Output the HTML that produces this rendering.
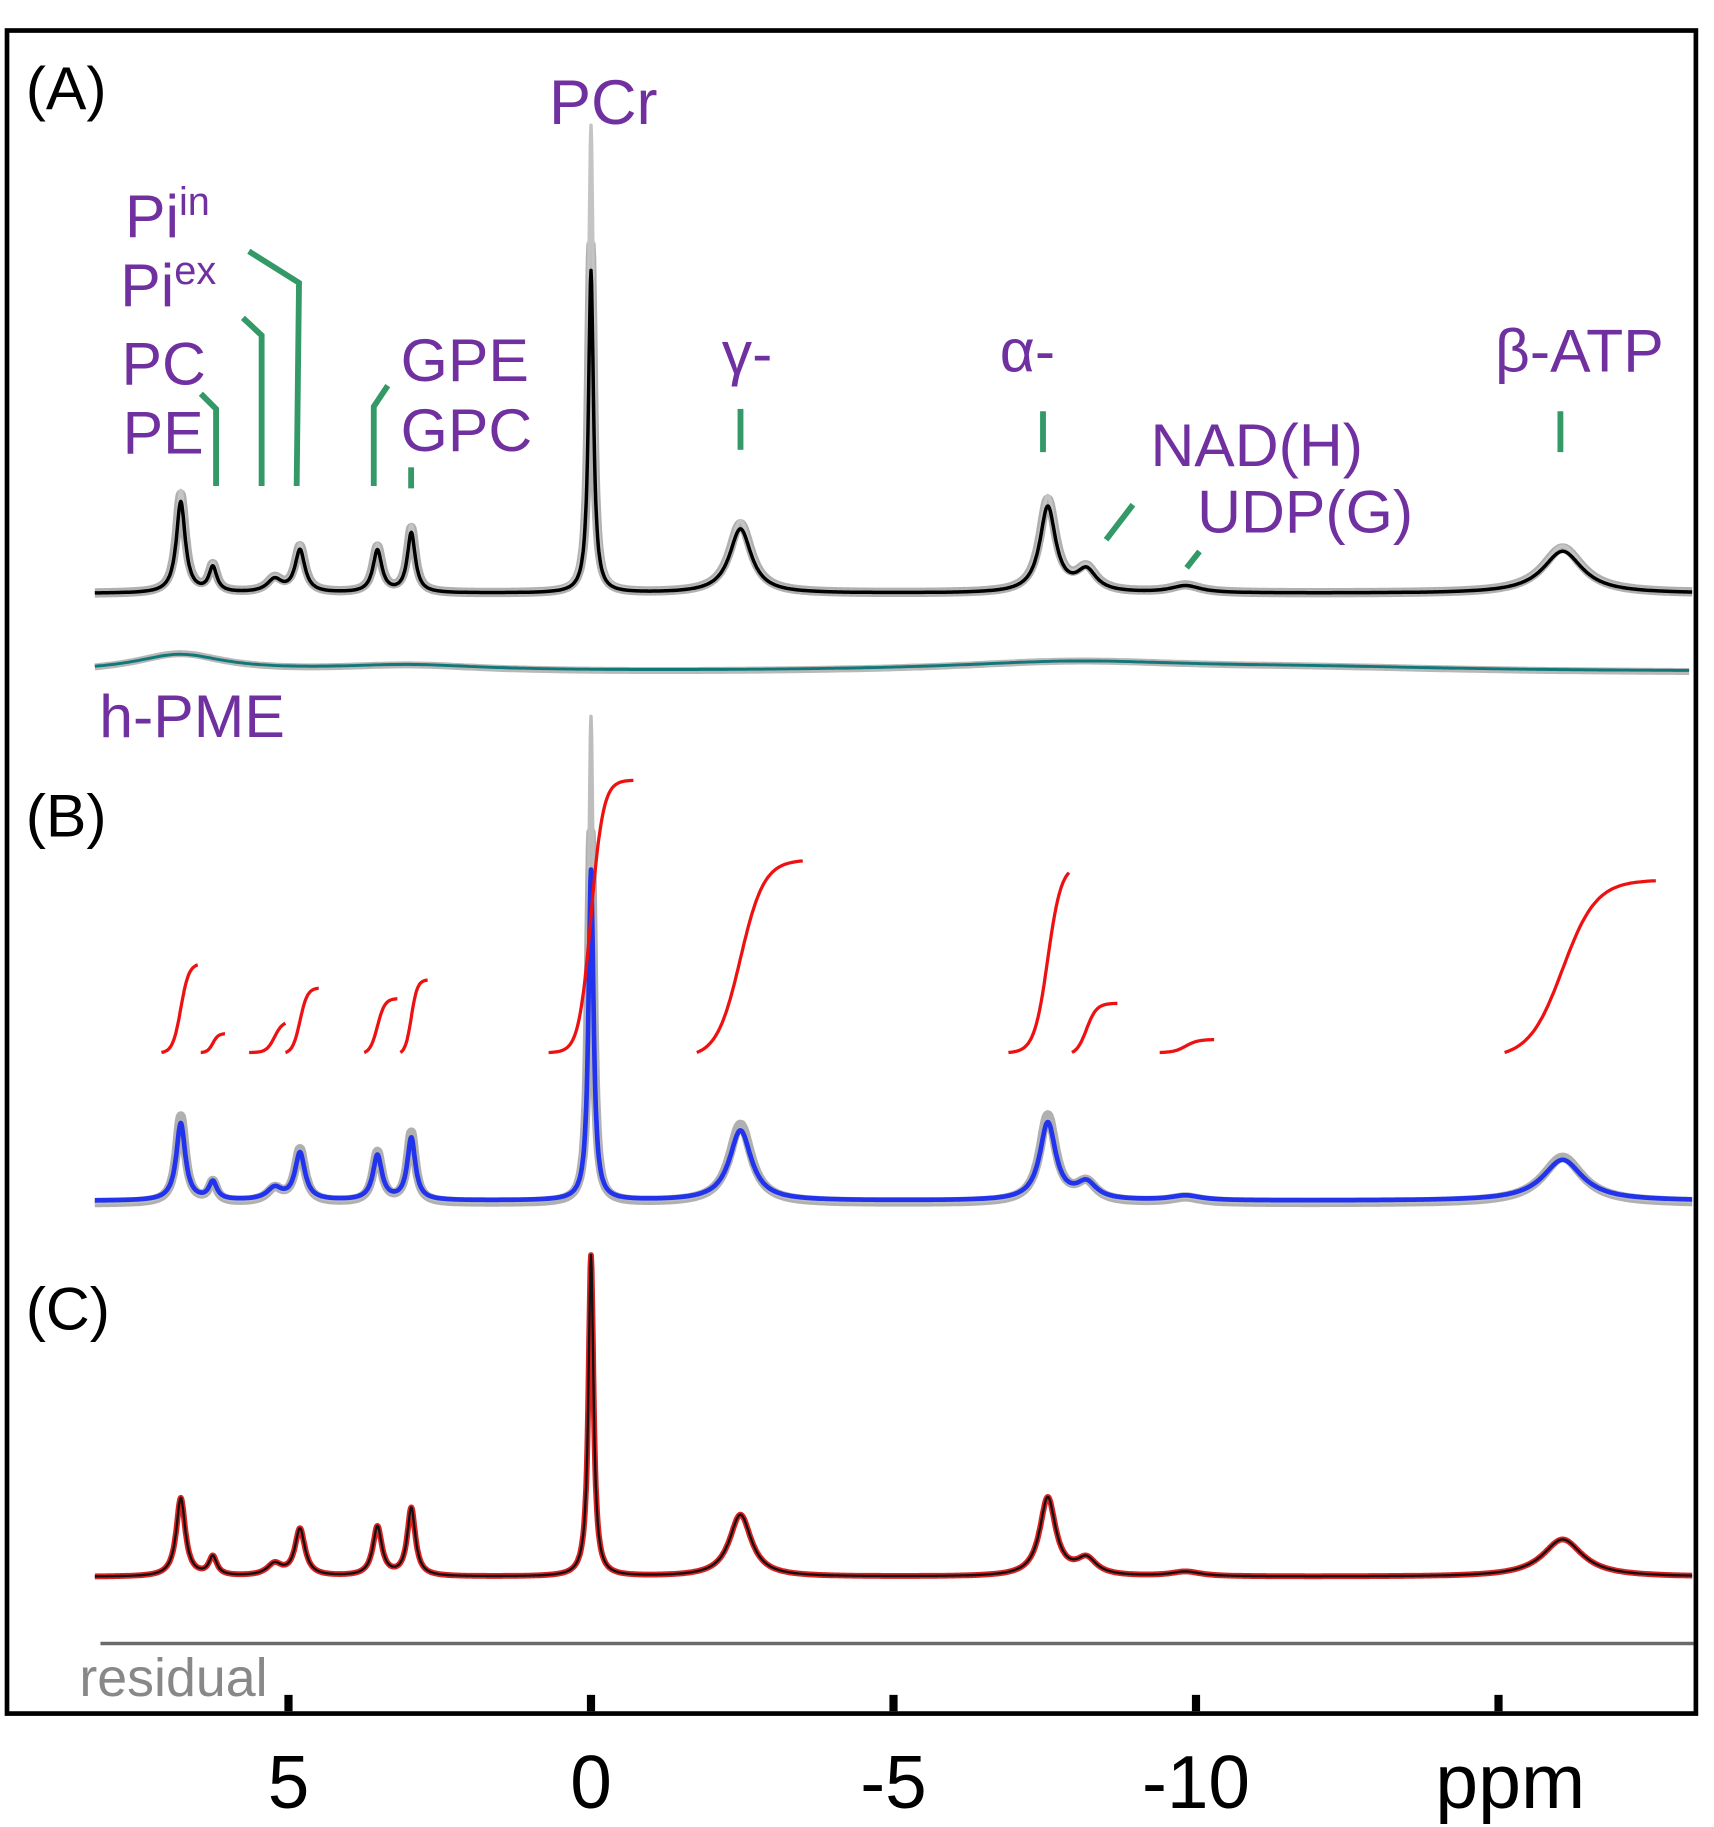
<!DOCTYPE html>
<html><head><meta charset="utf-8"><style>
html,body{margin:0;padding:0;background:#fff}
svg{display:block}
text{font-family:"Liberation Sans",sans-serif}
</style></head><body>
<svg id="chart" width="1714" height="1827" viewBox="0 0 1467.5 1564" xmlns="http://www.w3.org/2000/svg">
<rect x="6" y="26" width="1446" height="1441" fill="none" stroke="#000" stroke-width="4"/>
<g id="marks"></g>
<g id="labels" fill="#7030a0" font-size="52">
<text x="22" y="93" fill="#000" font-size="52">(A)</text>
<text x="22" y="716" fill="#000" font-size="52">(B)</text>
<text x="22" y="1138" fill="#000" font-size="52">(C)</text>
<text x="470" y="106" font-size="54">PCr</text>
<text x="107" y="203">Pi<tspan font-size="34" dy="-19">in</tspan></text>
<text x="103" y="262">Pi<tspan font-size="34" dy="-19">ex</tspan></text>
<text x="104" y="329">PC</text>
<text x="105" y="388">PE</text>
<text x="343" y="326">GPE</text>
<text x="343" y="386">GPC</text>
<text x="618" y="320">γ-</text>
<text x="856" y="318">α-</text>
<text x="1280" y="318">β-ATP</text>
<text x="985" y="399">NAD(H)</text>
<text x="1025" y="456">UDP(G)</text>
<text x="85" y="631">h-PME</text>
<text x="68" y="1452" fill="#888" font-size="46">residual</text>
</g>
<g stroke="#339966" stroke-width="5" fill="none">
<polyline points="172,337 185,350 185,416"/>
<polyline points="208,272 224,287 224,416"/>
<polyline points="213,215 256,242 254,416"/>
<polyline points="332,330 320,348 320,416"/>
<polyline points="352,400 352,418"/>
<polyline points="634,350 634,385"/>
<polyline points="893,352 893,387"/>
<polyline points="1336,352 1336,387"/>
<polyline points="970,432 947,462"/>
<polyline points="1027,472 1016,486"/>
</g>
<g id="axis"></g>
</svg>
<script>
const peakNames=["PE","PC","Pi-ex","Pi-in","GPE","GPC","PCr","gamma","alpha","NAD","UDP","beta"];
const peakPpm=[6.78,6.25,5.23,4.81,3.53,2.97,0,-2.47,-7.55,-8.19,-9.83,-16.06];
const peakAmpA=[78,21,11,36,36,51,276,55,73,18,6,36];
const peakAmpB=[66,15,10,40,38,53,283,60,66,14,4,35];
const peakAmpC=[67,16,10,40,42,58,275,53,67,14,4,32];
const peakWidth=[0.09,0.08,0.15,0.1,0.09,0.08,0.05,0.22,0.16,0.2,0.3,0.4];
const integralHeights=[75,16,25,55,46,62,233,164,154,42,11,147];
const integralStart=[7.1,6.45,5.65,5.05,3.75,3.15,0.7,-1.75,-6.9,-7.95,-9.4,-15.1];
const integralEnd=[6.5,6.05,5.05,4.5,3.2,2.7,-0.7,-3.5,-7.9,-8.7,-10.3,-17.6];
const xTicks=[5,0,-5,-10,-15];
const xTickLabels=["5","0","-5","-10",""];

const svgNS="http://www.w3.org/2000/svg";
const marks=document.getElementById('marks');
const axisG=document.getElementById('axis');
function xScale(p){return 506-p*51.8;}
function spec(p,amps){let s=0;for(let i=0;i<peakPpm.length;i++){const d=(p-peakPpm[i])/peakWidth[i];s+=amps[i]/(1+d*d);}return s;}
function pathFor(amps,base,scale){let d="";for(let p=8.2;p>=-18.2;p-=0.01){const x=xScale(p),y=base-spec(p,amps)*scale;d+=(d?"L":"M")+x.toFixed(1)+","+y.toFixed(1);}return d;}
function addPath(d,stroke,w,name){const el=document.createElementNS(svgNS,'path');el.setAttribute('d',d);el.setAttribute('fill','none');el.setAttribute('stroke',stroke);el.setAttribute('stroke-width',w);el.setAttribute('stroke-linejoin','round');


marks.appendChild(el);return el;}
// Panel A
addPath(pathFor(peakAmpA,508,1.08),"#b0b0b0",8,"panel-a-raw-trace");
addPath(pathFor(peakAmpA.map((v,i)=>i==6?v*1.45:v*1.12),508,1),"#c4c4c4",3,"panel-a-raw-peaks");
addPath(pathFor(peakAmpA,508,1),"#000",3,"panel-a-fit-trace");
// h-PME
const pmePpm=[6.8,3.0,-8.0,-12];const pmeAmp=[14,5,8,3];const pmeW=[0.9,1.5,2.5,3];
function pme(p){let s=0;for(let i=0;i<pmePpm.length;i++){const d=(p-pmePpm[i])/pmeW[i];s+=pmeAmp[i]/(1+d*d);}return s;}
function pmePath(base,sc){let d="";for(let p=8.2;p>=-18.2;p-=0.05){d+=(d?"L":"M")+xScale(p).toFixed(1)+","+(base-pme(p)*sc).toFixed(1);}return d;}
addPath(pmePath(576,1.1),"#b8b8b8",6,"h-pme-raw");
addPath(pmePath(575,1),"#107878",2.5,"h-pme-fit");
// Panel B
addPath(pathFor(peakAmpB,1030,1.12),"#b0b0b0",8,"panel-b-raw-trace");
addPath(pathFor(peakAmpB.map((v,i)=>i==6?v*1.4:v),1030,1.05),"#bdbdbd",3,"panel-b-raw-peaks");
addPath(pathFor(peakAmpB,1028,1),"#2233ee",4,"panel-b-fit-trace");
// integrals (logistic step shape)
for(let i=0;i<peakPpm.length;i++){
 let d="";const a=integralStart[i],b=integralEnd[i],w=Math.min(Math.abs(b-a)/9,peakWidth[i]*2);
 const f=p=>1/(1+Math.exp((p-peakPpm[i])/w));const fa=f(a),fb=f(b);
 const N=80;
 for(let k=0;k<=N;k++){const p=a+(b-a)*k/N;const t=(f(p)-fa)/(fb-fa);const y=901-t*integralHeights[i];d+=(d?"L":"M")+xScale(p).toFixed(1)+","+y.toFixed(1);}
 addPath(d,"#ee1111",2.8,"integral-"+peakNames[i]);
}
// Panel C
addPath(pathFor(peakAmpC,1350,1),"#dd2222",5,"panel-c-fit-red");
addPath(pathFor(peakAmpC,1350,1),"#111",2,"panel-c-fit-trace");
// residual
addPath("M86,1407L1450,1407","#6a6a6a",3,"residual-trace");
// axis ticks
for(let i=0;i<xTicks.length;i++){
 const x=xScale(xTicks[i]);
 const r=document.createElementNS(svgNS,'rect');r.setAttribute('x',x-3.5);r.setAttribute('y',1451);r.setAttribute('width',7);r.setAttribute('height',14);r.setAttribute('fill','#000');
 
 
 axisG.appendChild(r);
 const t=document.createElementNS(svgNS,'text');t.setAttribute('x',x);t.setAttribute('y',1548);t.setAttribute('text-anchor','middle');t.setAttribute('font-size','64');t.textContent=xTickLabels[i];
 
 
 axisG.appendChild(t);
}
const u=document.createElementNS(svgNS,'text');u.setAttribute('x',1293);u.setAttribute('y',1548);u.setAttribute('text-anchor','middle');u.setAttribute('font-size','66');u.textContent='ppm';


axisG.appendChild(u);
</script>
</body></html>
